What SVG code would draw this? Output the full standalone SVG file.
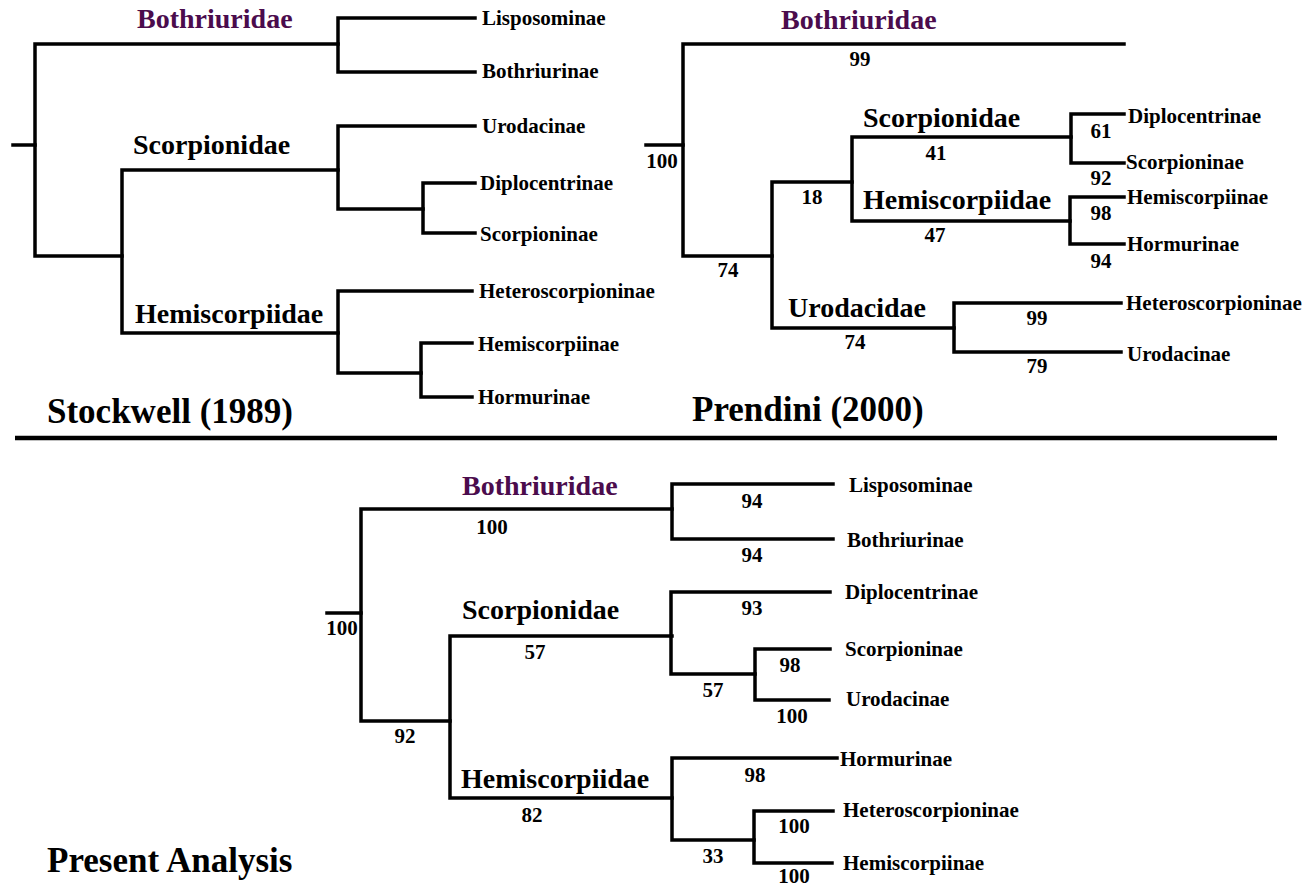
<svg xmlns="http://www.w3.org/2000/svg" width="1314" height="888" viewBox="0 0 1314 888">
<style>
.ln{fill:none;stroke:#000;stroke-width:3.5;stroke-linejoin:miter;stroke-linecap:square}
text{font-family:"Liberation Serif","Times New Roman",serif;font-weight:bold;fill:#000}
.leaf{font-size:21px}
.num{font-size:21px;text-anchor:middle}
.clade{font-size:28px}
.purple{fill:#4b0c4d}
.title{font-size:35px}
</style>
<rect width="1314" height="888" fill="#fff"/>
<g id="connectors">
<path class="ln" d="M13,145 H35"/>
<path class="ln" d="M338,44 H35 V256 H122"/>
<path class="ln" d="M338,170 H122 V333 H338"/>
<path class="ln" d="M475,18 H338 V72 H475"/>
<path class="ln" d="M475,126 H338 V209 H423"/>
<path class="ln" d="M475,183 H423 V233 H475"/>
<path class="ln" d="M472,291 H338 V373 H421"/>
<path class="ln" d="M472,343 H421 V397 H472"/>
<path class="ln" d="M646,145 H683"/>
<path class="ln" d="M1124,44 H683 V256 H772"/>
<path class="ln" d="M852,182 H772 V328 H954"/>
<path class="ln" d="M1071,137 H852 V221 H1070"/>
<path class="ln" d="M1124,114 H1071 V163 H1124"/>
<path class="ln" d="M1124,197 H1070 V244 H1124"/>
<path class="ln" d="M1121,303 H954 V352 H1121"/>
<path class="ln" d="M327,613 H361"/>
<path class="ln" d="M672,509 H361 V721 H450"/>
<path class="ln" d="M672,636 H450 V798 H672"/>
<path class="ln" d="M833,484 H672 V539 H833"/>
<path class="ln" d="M830,592 H671 V674 H755"/>
<path class="ln" d="M830,649 H755 V700 H829"/>
<path class="ln" d="M837,758 H672 V840 H754"/>
<path class="ln" d="M833,811 H754 V863 H832"/>
<path d="M15,438 H1277" stroke="#000" stroke-width="4.5" fill="none"/>
</g>
<g id="stockwell">
<g id="s-bothriuridae"><text class="clade purple" x="137" y="28">Bothriuridae</text></g>
<g id="s-scorpionidae"><text class="clade" x="133" y="154">Scorpionidae</text></g>
<g id="s-hemiscorpiidae"><text class="clade" x="135" y="323">Hemiscorpiidae</text></g>
<g id="s-lisposominae"><text class="leaf" x="482" y="25">Lisposominae</text></g>
<g id="s-bothriurinae"><text class="leaf" x="482" y="78">Bothriurinae</text></g>
<g id="s-urodacinae"><text class="leaf" x="482" y="133">Urodacinae</text></g>
<g id="s-diplocentrinae"><text class="leaf" x="480" y="190">Diplocentrinae</text></g>
<g id="s-scorpioninae"><text class="leaf" x="480" y="241">Scorpioninae</text></g>
<g id="s-heteroscorpioninae"><text class="leaf" x="479" y="298">Heteroscorpioninae</text></g>
<g id="s-hemiscorpiinae"><text class="leaf" x="478" y="351">Hemiscorpiinae</text></g>
<g id="s-hormurinae"><text class="leaf" x="478" y="404">Hormurinae</text></g>
<g id="s-title"><text class="title" x="47" y="423">Stockwell (1989)</text></g>
</g>
<g id="prendini">
<g id="p-bothriuridae"><text class="clade purple" x="781" y="29">Bothriuridae</text></g>
<g id="p-scorpionidae"><text class="clade" x="863" y="127">Scorpionidae</text></g>
<g id="p-hemiscorpiidae"><text class="clade" x="863" y="209">Hemiscorpiidae</text></g>
<g id="p-urodacidae"><text class="clade" x="788" y="317">Urodacidae</text></g>
<g id="p-diplocentrinae"><text class="leaf" x="1128" y="123">Diplocentrinae</text></g>
<g id="p-scorpioninae"><text class="leaf" x="1126" y="169">Scorpioninae</text></g>
<g id="p-hemiscorpiinae"><text class="leaf" x="1127" y="204">Hemiscorpiinae</text></g>
<g id="p-hormurinae"><text class="leaf" x="1127" y="251">Hormurinae</text></g>
<g id="p-heteroscorpioninae"><text class="leaf" x="1126" y="310">Heteroscorpioninae</text></g>
<g id="p-urodacinae"><text class="leaf" x="1127" y="361">Urodacinae</text></g>
<g id="p-numbers">
<text class="num" x="860" y="66">99</text>
<text class="num" x="662" y="168">100</text>
<text class="num" x="728" y="277">74</text>
<text class="num" x="812" y="204">18</text>
<text class="num" x="936" y="160">41</text>
<text class="num" x="1101" y="138">61</text>
<text class="num" x="1101" y="185">92</text>
<text class="num" x="935" y="242">47</text>
<text class="num" x="1101" y="220">98</text>
<text class="num" x="1101" y="268">94</text>
<text class="num" x="855" y="349">74</text>
<text class="num" x="1037" y="325">99</text>
<text class="num" x="1037" y="373">79</text>
</g>
<g id="p-title"><text class="title" x="692" y="421">Prendini (2000)</text></g>
</g>
<g id="present">
<g id="a-bothriuridae"><text class="clade purple" x="462" y="495">Bothriuridae</text></g>
<g id="a-scorpionidae"><text class="clade" x="462" y="619">Scorpionidae</text></g>
<g id="a-hemiscorpiidae"><text class="clade" x="461" y="788">Hemiscorpiidae</text></g>
<g id="a-lisposominae"><text class="leaf" x="849" y="492">Lisposominae</text></g>
<g id="a-bothriurinae"><text class="leaf" x="847" y="547">Bothriurinae</text></g>
<g id="a-diplocentrinae"><text class="leaf" x="845" y="599">Diplocentrinae</text></g>
<g id="a-scorpioninae"><text class="leaf" x="845" y="656">Scorpioninae</text></g>
<g id="a-urodacinae"><text class="leaf" x="846" y="706">Urodacinae</text></g>
<g id="a-hormurinae"><text class="leaf" x="840" y="766">Hormurinae</text></g>
<g id="a-heteroscorpioninae"><text class="leaf" x="843" y="817">Heteroscorpioninae</text></g>
<g id="a-hemiscorpiinae"><text class="leaf" x="843" y="870">Hemiscorpiinae</text></g>
<g id="a-numbers">
<text class="num" x="492" y="534">100</text>
<text class="num" x="342" y="635">100</text>
<text class="num" x="535" y="659">57</text>
<text class="num" x="405" y="743">92</text>
<text class="num" x="532" y="822">82</text>
<text class="num" x="752" y="508">94</text>
<text class="num" x="752" y="562">94</text>
<text class="num" x="752" y="615">93</text>
<text class="num" x="790" y="672">98</text>
<text class="num" x="713" y="697">57</text>
<text class="num" x="792" y="723">100</text>
<text class="num" x="755" y="782">98</text>
<text class="num" x="713" y="863">33</text>
<text class="num" x="794" y="833">100</text>
<text class="num" x="794" y="883">100</text>
</g>
<g id="a-title"><text class="title" x="47" y="872">Present Analysis</text></g>
</g>
</svg>
